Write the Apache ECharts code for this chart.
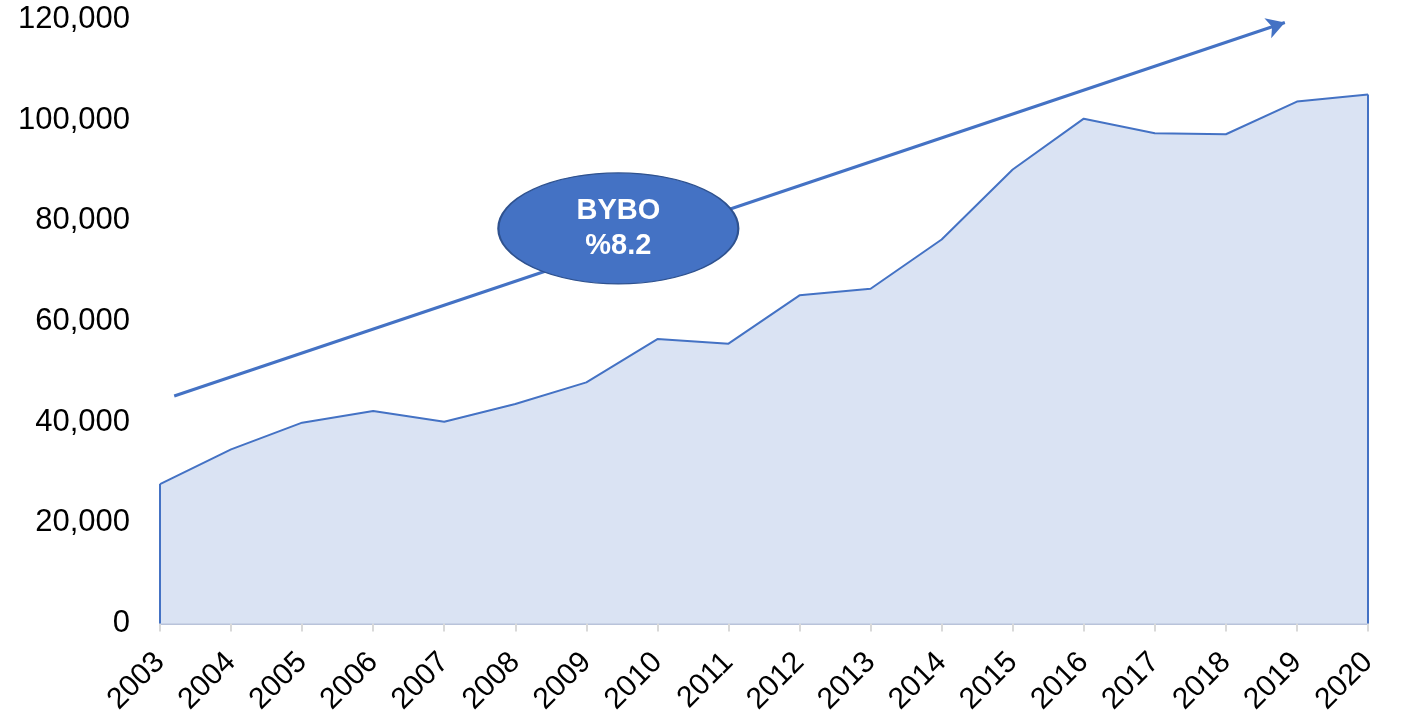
<!DOCTYPE html>
<html>
<head>
<meta charset="utf-8">
<script src="https://cdn.jsdelivr.net/npm/echarts@6/dist/echarts.min.js"></script>
<style>
  html, body { margin: 0; padding: 0; background: #fff; }
  #chart { width: 1417px; height: 720px; }
</style>
</head>
<body>
<div id="chart"></div>
<script>
// years on the x axis
var years = [2003, 2004, 2005, 2006, 2007, 2008, 2009, 2010, 2011,
             2012, 2013, 2014, 2015, 2016, 2017, 2018, 2019, 2020];
// values
var values = [27700, 34600, 39900, 42200, 40100, 43600, 47900, 56500, 55600,
              65200, 66500, 76300, 90200, 100300, 97400, 97200, 103700, 105100];
var yTicks = [0, 20000, 40000, 60000, 80000, 100000, 120000];

// trend arrow and the bubble (in data units)
var arrowStart = [2003.2, 45200];
var arrowEnd = [2018.83, 119400];
var bubbleAt = [2009.45, 78500];
var bubbleText = ['BYBO', '%8.2'];

var blue = '#4472C4';
var chart = echarts.init(document.getElementById('chart'));

var points = years.map(function (y, i) { return [y, values[i]]; });
var last = years.length - 1;

var option = {
  animation: false,
  grid: { left: 160, right: 49, top: 19.5, bottom: 96.5 },
  textStyle: { fontFamily: 'Liberation Sans, Arial, sans-serif' },
  xAxis: {
    type: 'value',
    min: years[0],
    max: years[last],
    interval: 1,
    splitLine: { show: false },
    axisLine: { show: true, lineStyle: { color: '#B9C3DA', width: 2 } },
    axisTick: { show: true, length: 8, lineStyle: { color: '#D9D9D9', width: 2 } },
    axisLabel: {
      rotate: 45,
      margin: 34,
      fontSize: 30,
      color: '#000',
      formatter: function (v) { return String(v); }
    }
  },
  yAxis: {
    type: 'value',
    min: yTicks[0],
    max: yTicks[yTicks.length - 1],
    interval: yTicks[1] - yTicks[0],
    splitLine: { show: false },
    axisLine: { show: false },
    axisTick: { show: false },
    axisLabel: {
      margin: 30,
      fontSize: 31,
      color: '#000',
      formatter: function (v) { return v.toLocaleString('en-US'); }
    }
  },
  series: [
    {
      type: 'line',
      data: points,
      symbol: 'none',
      lineStyle: { color: blue, width: 2 },
      areaStyle: { color: '#DAE3F3', opacity: 1 },
      markLine: {
        silent: true,
        symbol: 'none',
        label: { show: false },
        lineStyle: { color: blue, width: 2, type: 'solid' },
        data: [
          [{ coord: [years[0], 0] }, { coord: [years[0], values[0]] }],
          [{ coord: [years[last], 0] }, { coord: [years[last], values[last]] }]
        ]
      }
    },
    {
      type: 'line',
      data: [],
      markLine: {
        silent: true,
        symbol: ['none', 'arrow'],
        symbolSize: [16, 18],
        label: { show: false },
        lineStyle: { color: blue, width: 3, type: 'solid' },
        data: [[{ coord: arrowStart }, { coord: arrowEnd }]]
      },
      markPoint: {
        silent: true,
        symbol: 'circle',
        symbolSize: [240, 111],
        itemStyle: { color: blue, borderColor: '#2F528F', borderWidth: 1.5 },
        label: {
          show: true,
          position: 'inside',
          color: '#fff',
          fontWeight: 'bold',
          fontSize: 29,
          lineHeight: 35,
          formatter: bubbleText.join('\n')
        },
        data: [{ coord: bubbleAt }]
      }
    }
  ]
};

chart.setOption(option);
</script>
</body>
</html>
